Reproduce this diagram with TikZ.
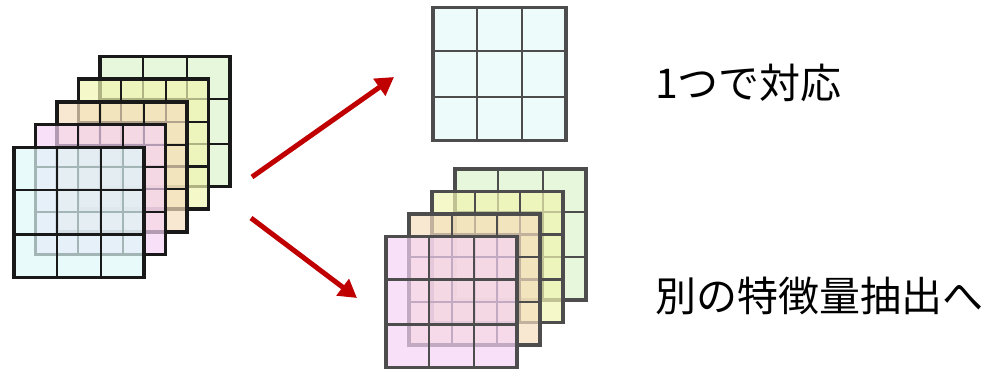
\documentclass[tikz,border=0pt]{standalone}
\usepackage{fontspec}
\newfontfamily\jpfont{Noto Sans CJK JP}
\usepackage{tikz}
\usetikzlibrary{arrows.meta, positioning, calc}
\definecolor{mapblack}{RGB}{25,25,25}
\definecolor{mapgray}{RGB}{77,77,77}
\definecolor{arrowred}{RGB}{192,0,0}
\definecolor{mapgreen}{RGB}{219,244,205}
\definecolor{mapyellow}{RGB}{241,245,177}
\definecolor{maporange}{RGB}{245,222,191}
\definecolor{mappink}{RGB}{245,212,245}
\definecolor{mapblue}{RGB}{222,248,248}
\definecolor{mapcyan}{RGB}{238,251,251}
\tikzstyle{fmap} = [rectangle, draw=mapblack, line width=3.6pt, fill opacity=0.7, minimum size=130pt, inner sep=0pt]
\tikzstyle{gridline} = [draw=mapblack, line width=2.2pt]
\tikzstyle{arrow} = [line width=5pt, draw=arrowred, -{Triangle[length=18pt,width=20pt]}]
\tikzstyle{jptext} = [font=\jpfont\fontsize{41}{49}\selectfont, anchor=west, inner sep=0pt]
% inner 3x3 lines of a feature map
\newcommand{\mapgrid}[2]{%
  \foreach \f in {1,2} {
    \draw[#2] ($(#1.north west)!\f/3!(#1.north east)$) -- ($(#1.south west)!\f/3!(#1.south east)$);
    \draw[#2] ($(#1.north west)!\f/3!(#1.south west)$) -- ($(#1.north east)!\f/3!(#1.south east)$);
  }}

\begin{document}
\begin{tikzpicture}[x=1pt, y=-1pt]
    \useasboundingbox (0,0) rectangle (992,370);

    % Input stack
    \node (ingreen) [fmap, fill=mapgreen] at (165,121.5) {};
    \mapgrid{ingreen}{gridline}
    \node (inyellow) [fmap, fill=mapyellow, xshift=-21.5pt, yshift=-22.7pt] at (ingreen) {};
    \mapgrid{inyellow}{gridline}
    \node (inorange) [fmap, fill=maporange, xshift=-21.5pt, yshift=-22.7pt] at (inyellow) {};
    \mapgrid{inorange}{gridline}
    \node (inpink) [fmap, fill=mappink, xshift=-21.5pt, yshift=-22.7pt] at (inorange) {};
    \mapgrid{inpink}{gridline}
    \node (inblue) [fmap, fill=mapblue, xshift=-21.5pt, yshift=-22.7pt] at (inpink) {};
    \mapgrid{inblue}{gridline}

    % Single output map
    \node (single) [fmap, draw=mapgray, fill=mapcyan, fill opacity=1, minimum size=133pt] at (499.5,74) {};
    \mapgrid{single}{gridline, draw=mapgray}

    % Output stack
    \node (outgreen) [fmap, draw=mapgray, fill=mapgreen, minimum size=131pt] at (520.5,234.5) {};
    \mapgrid{outgreen}{gridline, draw=mapgray}
    \node (outyellow) [fmap, draw=mapgray, fill=mapyellow, minimum size=131pt, xshift=-23pt, yshift=-22.5pt] at (outgreen) {};
    \mapgrid{outyellow}{gridline, draw=mapgray}
    \node (outorange) [fmap, draw=mapgray, fill=maporange, minimum size=131pt, xshift=-23pt, yshift=-22.5pt] at (outyellow) {};
    \mapgrid{outorange}{gridline, draw=mapgray}
    \node (outpink) [fmap, draw=mapgray, fill=mappink, minimum size=131pt, xshift=-23pt, yshift=-22.5pt] at (outorange) {};
    \mapgrid{outpink}{gridline, draw=mapgray}

    % Labels
    \node (onetext) [jptext] at (655,83) {1つで対応};
    \node (othertext) [jptext] at (655,296) {別の特徴量抽出へ};

    % Arrows
    \coordinate (upstart) at (252,177);
    \coordinate (upend) at (394,77);
    \coordinate (downstart) at (251,218);
    \coordinate (downend) at (357,298);
    \draw [arrow] (upstart) -- (upend);
    \draw [arrow] (downstart) -- (downend);
\end{tikzpicture}
\end{document}
